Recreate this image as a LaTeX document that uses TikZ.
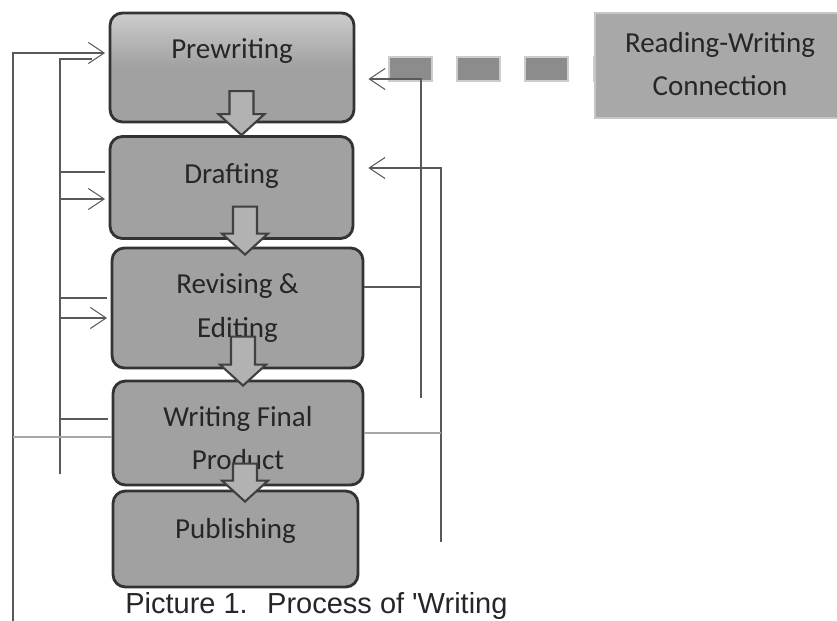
\documentclass[tikz,border=0pt]{standalone}
\usepackage{fontspec}
\setmainfont{Carlito}
\newfontfamily\capfont{Liberation Sans}
\usetikzlibrary{arrows.meta,calc}
\definecolor{boxgray}{gray}{0.63}
\definecolor{boxtop}{gray}{0.80}
\definecolor{arrowgray}{gray}{0.70}
\definecolor{rwgray}{gray}{0.66}
\tikzset{
  stagebox/.style={draw=black!80,line width=1.6pt,rounded corners=7pt,fill=boxgray},
  stagetext/.style={font=\fontsize{16.5}{24.5}\selectfont,align=center,text=black!85},
  flowarrow/.style={draw=black!75,line width=1.2pt,fill=arrowgray,line join=miter},
  fb/.style={draw=black!65,line width=0.6pt},
  fbarrow/.style={fb,-{Straight Barb[length=9pt,width=12pt]}},
  rwhalo/.style={draw=gray!40,line width=14.7pt,dash pattern=on 25.5pt off 13.3pt},
  rwdash/.style={draw=gray!90,line width=12.5pt,dash pattern=on 23.2pt off 15.6pt},
}
\begin{document}
\begin{tikzpicture}[x=0.02cm,y=-0.02cm]
	\useasboundingbox (0,0) rectangle (837,621);
	% writing stages
	\node[stagebox,top color=boxtop,bottom color=boxgray,middle color=boxgray,minimum width=4.88cm,minimum height=2.18cm,
		label={[stagetext,yshift=0.33cm]center:Prewriting}] (pre) at (232,67.5) {};
	\node[stagebox,minimum width=4.86cm,minimum height=2.04cm,
		label={[stagetext,yshift=0.22cm]center:Drafting}] (draft) at (231.5,187.5) {};
	\node[stagebox,minimum width=5.02cm,minimum height=2.4cm,
		label={[stagetext]center:Revising \&\\Editing}] (rev) at (237.5,308) {};
	\node[stagebox,minimum width=5cm,minimum height=2.08cm,
		label={[stagetext,yshift=-0.1cm]center:Writing Final\\Product}] (final) at (238,433) {};
	\node[stagebox,minimum width=4.9cm,minimum height=1.92cm,
		label={[stagetext,yshift=0.16cm]center:Publishing}] (pub) at (235.5,539) {};
	% block arrows between stages
	\foreach \v/\dx/\dy/\s in {draft/10/0/23, rev/7.5/8/27, final/5/6/28, pub/9.5/12/17}
		\draw[flowarrow] ($(\v.north)+(\dx,\dy)$) -- ++(23,-21) -- ++(-11,0) -- ++(0,-\s)
			-- ++(-24,0) -- ++(0,\s) -- ++(-11,0) -- cycle;
	% reading-writing connection
	\draw[rwhalo] (388,69) -- (595,69);
	\draw[rwdash] (390,69) -- (595,69);
	\node[draw=gray!45,line width=1pt,fill=rwgray,minimum width=5cm,minimum height=2.1cm,
		label={[stagetext,yshift=0.03cm]center:Reading-Writing\\Connection}] (rwc) at (720,65.5) {};
	% feedback lines, left
	\coordinate (outtop) at (13,53);
	\coordinate (outbot) at (13,640);
	\coordinate (intop) at (60,59);
	\coordinate (inbot) at (60,474);
	\draw[fbarrow,shorten >=2pt] (outbot) -- (outtop) -- (pre.west |- outtop);
	\draw[fb] (inbot) -- (intop) -- ++(32,0);
	\foreach \y/\n/\tip in {172/draft/fb, 199/draft/fbarrow, 298/rev/fb, 318/rev/fbarrow, 419/final/fb}
		\draw[\tip,shorten >=2pt] (60,\y) -- (\n.west |- 60,\y);
	\draw[fb,draw=gray!70] (13,437) -- (final.west |- 13,437);
	% feedback lines, right
	\coordinate (rtop) at (421,79);
	\coordinate (rbot) at (421,398);
	\coordinate (stop) at (441,168);
	\coordinate (sbot) at (441,542);
	\draw[fbarrow,shorten >=7.4pt] (rbot) -- (rtop) -- (pre.east |- rtop);
	\draw[fb] (rev.east |- 0,287) -- (rtop |- 0,287);
	\draw[fbarrow,shorten >=7.9pt] (sbot) -- (stop) -- (draft.east |- stop);
	\draw[fb,draw=gray!70] (final.east |- 0,433) -- (stop |- 0,433);
	% caption
	\node[anchor=base west,inner sep=0pt,font=\capfont\fontsize{16.5}{20}\selectfont,text=black!85] (cap)
		at (125,613) {Picture 1.\hspace{0.3em} Process of 'Writing};
\end{tikzpicture}
\end{document}
